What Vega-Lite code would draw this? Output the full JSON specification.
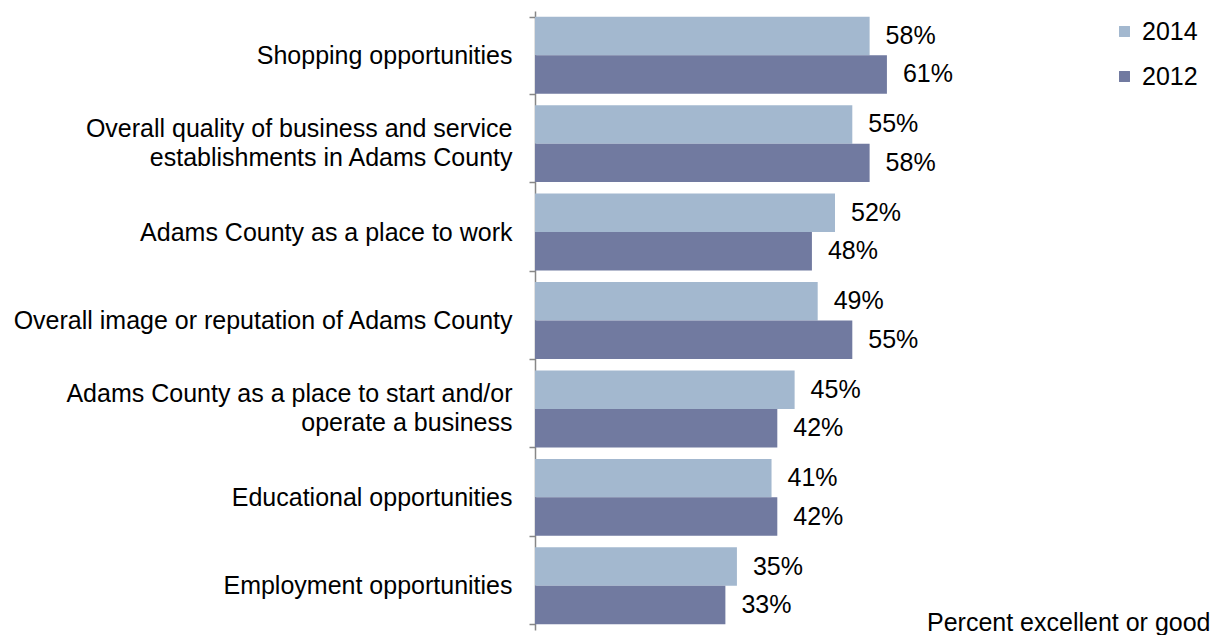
{
  "$schema": "https://vega.github.io/schema/vega-lite/v6.json",
  "width": 675,
  "height": 619,
  "autosize": {"type": "none"},
  "padding": {"left": 535, "top": 11, "right": 5, "bottom": 5},
  "background": "white",
  "config": {"view": {"stroke": null}, "font": "Liberation Sans"},
  "resolve": {"axis": {"y": "independent"}},
  "data": {
    "values": [
      {"category": "Shopping opportunities", "year": "2014", "value": 0.58},
      {"category": "Shopping opportunities", "year": "2012", "value": 0.61},
      {"category": "Overall quality of business and service|establishments in Adams County", "year": "2014", "value": 0.55},
      {"category": "Overall quality of business and service|establishments in Adams County", "year": "2012", "value": 0.58},
      {"category": "Adams County as a place to work", "year": "2014", "value": 0.52},
      {"category": "Adams County as a place to work", "year": "2012", "value": 0.48},
      {"category": "Overall image or reputation of Adams County", "year": "2014", "value": 0.49},
      {"category": "Overall image or reputation of Adams County", "year": "2012", "value": 0.55},
      {"category": "Adams County as a place to start and/or|operate a business", "year": "2014", "value": 0.45},
      {"category": "Adams County as a place to start and/or|operate a business", "year": "2012", "value": 0.42},
      {"category": "Educational opportunities", "year": "2014", "value": 0.41},
      {"category": "Educational opportunities", "year": "2012", "value": 0.42},
      {"category": "Employment opportunities", "year": "2014", "value": 0.35},
      {"category": "Employment opportunities", "year": "2012", "value": 0.33}
    ]
  },
  "encoding": {
    "yOffset": {
      "field": "year",
      "type": "nominal",
      "sort": ["2014", "2012"],
      "scale": {"paddingInner": 0, "paddingOuter": 0}
    },
    "x": {
      "field": "value",
      "type": "quantitative",
      "scale": {"domain": [0, 1.17]},
      "axis": {
        "orient": "bottom",
        "domain": false,
        "ticks": false,
        "labels": false,
        "grid": false,
        "title": "Percent excellent or good",
        "titleFontSize": 25,
        "titleFontWeight": "normal",
        "titleColor": "black",
        "titleAlign": "right",
        "titleAnchor": "end",
        "titleX": 675,
        "titleY": 0,
        "titleBaseline": "alphabetic"
      }
    }
  },
  "layer": [
    {
      "mark": {"type": "bar"},
      "encoding": {
        "y": {
          "field": "category",
          "type": "nominal",
          "sort": [
            "Shopping opportunities",
            "Overall quality of business and service|establishments in Adams County",
            "Adams County as a place to work",
            "Overall image or reputation of Adams County",
            "Adams County as a place to start and/or|operate a business",
            "Educational opportunities",
            "Employment opportunities"
          ],
          "scale": {"paddingInner": 0.13, "paddingOuter": 0.065},
          "axis": {
            "orient": "left",
            "title": null,
            "labelFontSize": 25,
            "labelColor": "black",
            "labelPadding": 17,
            "tickSize": 6,
            "tickBand": "extent",
            "domainColor": "#878787",
            "tickColor": "#878787",
            "domainWidth": 1.5,
            "tickWidth": 1.5,
            "labelLimit": 600,
            "labelExpr": "indexof(datum.label, '|') >= 0 ? '' : datum.label"
          }
        },
        "color": {
          "field": "year",
          "type": "nominal",
          "scale": {"domain": ["2014", "2012"], "range": ["#A3B8CF", "#717AA0"]},
          "legend": {
            "title": null,
            "orient": "none",
            "legendX": 577,
            "legendY": 8,
            "labelFontSize": 25,
            "labelColor": "black",
            "symbolType": "square",
            "symbolSize": 120,
            "symbolStrokeWidth": 0,
            "rowPadding": 19,
            "labelOffset": 5
          }
        }
      }
    },
    {
      "mark": {"type": "text", "align": "left", "dx": 16, "fontSize": 25, "color": "black"},
      "encoding": {
        "y": {
          "field": "category",
          "type": "nominal",
          "sort": [
            "Shopping opportunities",
            "Overall quality of business and service|establishments in Adams County",
            "Adams County as a place to work",
            "Overall image or reputation of Adams County",
            "Adams County as a place to start and/or|operate a business",
            "Educational opportunities",
            "Employment opportunities"
          ],
          "scale": {"paddingInner": 0.13, "paddingOuter": 0.065},
          "axis": {
            "orient": "left",
            "title": null,
            "domain": false,
            "labelFontSize": 25,
            "labelColor": "black",
            "labelPadding": 17,
            "labelBaseline": "line-bottom",
            "labelLineHeight": 29,
            "tickSize": 6,
            "tickOpacity": 0,
            "labelLimit": 600,
            "labelExpr": "indexof(datum.label, '|') >= 0 ? split(datum.label, '|') : ''"
          }
        },
        "text": {"field": "value", "type": "quantitative", "format": ".0%"}
      }
    }
  ]
}
